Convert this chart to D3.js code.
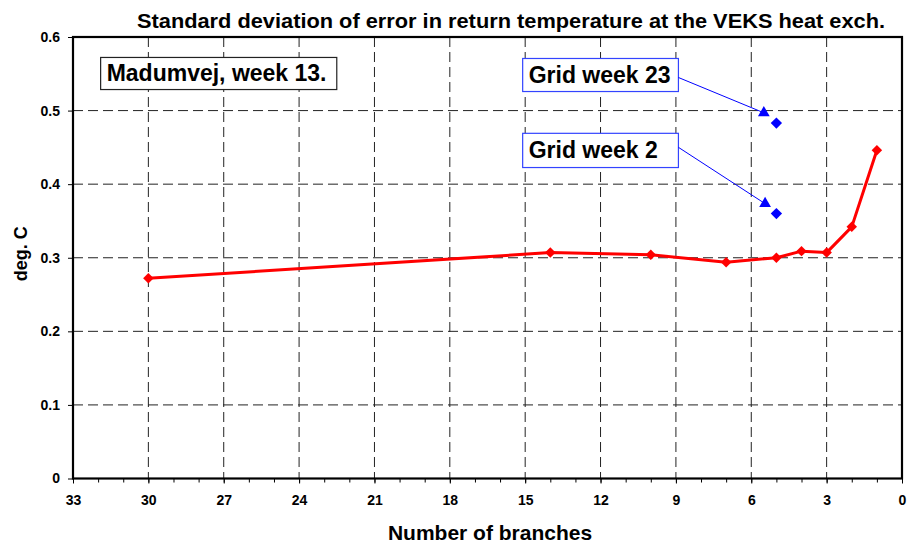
<!DOCTYPE html>
<html>
<head>
<meta charset="utf-8">
<script src="https://cdn.jsdelivr.net/npm/d3@7"></script>
<style>
  body { margin: 0; background: #fff; }
  svg { display: block; font-family: 'Liberation Sans', Arial, sans-serif; font-weight: bold; }
</style>
</head>
<body>
<svg id="chart"></svg>
<script>
// Madumvej, week 13 - std. deviation vs. number of branches
const branches = [30, 14, 10, 7, 5, 4, 3, 2, 1];
const stdDev = [0.272, 0.307, 0.304, 0.294, 0.300, 0.309, 0.307, 0.342, 0.446];

const gridPoints = [
  { label: 'Grid week 23', x: 5, y: 0.483 },
  { label: 'Grid week 2', x: 5, y: 0.360 },
];
// arrowhead tips of the two callouts
const arrowTips = [
  { x: 5.5, y: 0.497 },
  { x: 5.45, y: 0.3735 },
];
// callout boxes in data units: [x0, x1, yTop, yBottom]
const calloutBoxes = [
  [15.1, 8.9, 0.5708, 0.5259],
  [15.1, 8.9, 0.4691, 0.4226],
];
const titleBox = { label: 'Madumvej, week 13.', box: [31.9, 22.5, 0.5722, 0.5286] };

const xTicks = [33, 30, 27, 24, 21, 18, 15, 12, 9, 6, 3, 0];
const yTicks = [0, 0.1, 0.2, 0.3, 0.4, 0.5, 0.6];

const width = 909;
const height = 548;
const margin = { top: 37, right: 7, bottom: 69.5, left: 73 };

const svg = d3.select('#chart').attr('width', width).attr('height', height);

const x = d3
  .scaleLinear()
  .domain([33, 0])
  .range([margin.left, width - margin.right]);
const y = d3
  .scaleLinear()
  .domain([0, 0.6])
  .range([height - margin.bottom, margin.top]);

// grid
svg
  .append('g')
  .selectAll('line')
  .data(yTicks.slice(1, -1))
  .enter()
  .append('line')
  .attr('x1', x(33))
  .attr('x2', x(0))
  .attr('y1', (d) => y(d))
  .attr('y2', (d) => y(d))
  .attr('stroke', '#222')
  .attr('stroke-dasharray', '10,5');

svg
  .append('g')
  .selectAll('line')
  .data(xTicks.slice(1, -1))
  .enter()
  .append('line')
  .attr('x1', (d) => x(d))
  .attr('x2', (d) => x(d))
  .attr('y1', y(0.6))
  .attr('y2', y(0))
  .attr('stroke', '#222')
  .attr('stroke-dasharray', '10,5');

// axes
const xMinor = svg
  .append('g')
  .attr('transform', `translate(0,${y(0)})`)
  .call(d3.axisBottom(x).tickValues(d3.range(0, 34)).tickSize(4).tickFormat(''));
xMinor.select('.domain').remove();

const xAxis = svg
  .append('g')
  .attr('transform', `translate(0,${y(0)})`)
  .call(d3.axisBottom(x).tickValues(xTicks).tickSize(5).tickPadding(12).tickFormat(d3.format('d')));
xAxis.select('.domain').remove();
xAxis.selectAll('text').attr('font-size', 14).attr('font-weight', 'bold').attr('font-family', 'Liberation Sans, Arial, sans-serif');

const yAxis = svg
  .append('g')
  .attr('transform', `translate(${x(33)},0)`)
  .call(d3.axisLeft(y).tickValues(yTicks).tickSize(5).tickPadding(8).tickFormat((d) => (d === 0 ? '0' : d3.format('.1f')(d))));
yAxis.select('.domain').remove();
yAxis.selectAll('text').attr('font-size', 14).attr('font-weight', 'bold').attr('font-family', 'Liberation Sans, Arial, sans-serif');
svg.selectAll('.tick line').attr('stroke', '#000');

// frame
svg
  .append('rect')
  .attr('x', x(33))
  .attr('y', y(0.6))
  .attr('width', x(0) - x(33))
  .attr('height', y(0) - y(0.6))
  .attr('fill', 'none')
  .attr('stroke', '#000')
  .attr('stroke-width', 2.2);

// red series
const line = d3
  .line()
  .x((d, i) => x(branches[i]))
  .y((d) => y(d));

svg
  .append('path')
  .datum(stdDev)
  .attr('fill', 'none')
  .attr('stroke', '#ff0000')
  .attr('stroke-width', 3)
  .attr('stroke-linejoin', 'round')
  .attr('d', line);

const diamond = (size) => d3.symbol().type(d3.symbolSquare).size(size);

svg
  .append('g')
  .selectAll('path')
  .data(stdDev)
  .enter()
  .append('path')
  .attr('d', diamond(55)())
  .attr('transform', (d, i) => `translate(${x(branches[i])},${y(d)}) rotate(45)`)
  .attr('fill', '#ff0000');

// callout boxes and arrows
const boxLayer = svg.append('g');

function calloutBox(b, label, stroke) {
  boxLayer
    .append('rect')
    .attr('x', x(b[0]))
    .attr('y', y(b[2]))
    .attr('width', x(b[1]) - x(b[0]))
    .attr('height', y(b[3]) - y(b[2]))
    .attr('fill', '#fff')
    .attr('stroke', stroke)
    .attr('stroke-width', 1.2);
  boxLayer
    .append('text')
    .attr('x', x(b[0]) + 6)
    .attr('y', (y(b[2]) + y(b[3])) / 2 + 8)
    .attr('font-size', 23)
    .attr('fill', '#000')
    .text(label);
}

calloutBox(titleBox.box, titleBox.label, '#222');
gridPoints.forEach((p, i) => calloutBox(calloutBoxes[i], p.label, '#3344ff'));

gridPoints.forEach((p, i) => {
  const b = calloutBoxes[i];
  const tip = arrowTips[i];
  boxLayer
    .append('line')
    .attr('x1', x(b[1]))
    .attr('y1', y(b[2]) + (i === 0 ? 19 : 14))
    .attr('x2', x(tip.x))
    .attr('y2', y(tip.y))
    .attr('stroke', '#0000ff')
    .attr('stroke-width', 1);
  boxLayer
    .append('path')
    .attr('d', d3.symbol().type(d3.symbolTriangle).size(60)())
    .attr('transform', `translate(${x(tip.x)},${y(tip.y)})`)
    .attr('fill', '#0000ff');
});

svg
  .append('g')
  .selectAll('path')
  .data(gridPoints)
  .enter()
  .append('path')
  .attr('d', diamond(64)())
  .attr('transform', (d) => `translate(${x(d.x)},${y(d.y)}) rotate(45)`)
  .attr('fill', '#0000ff');

// titles
svg
  .append('text')
  .attr('x', 511)
  .attr('y', 28)
  .attr('text-anchor', 'middle')
  .attr('font-size', 20)
  .attr('textLength', 748)
  .attr('lengthAdjust', 'spacingAndGlyphs')
  .text('Standard deviation of error in return temperature at the VEKS heat exch.');

svg
  .append('text')
  .attr('x', 490)
  .attr('y', 540)
  .attr('text-anchor', 'middle')
  .attr('font-size', 21)
  .text('Number of branches');

svg
  .append('text')
  .attr('transform', `translate(27,${(y(0) + y(0.6)) / 2 - 4}) rotate(-90)`)
  .attr('text-anchor', 'middle')
  .attr('font-size', 18)
  .text('deg. C');
</script>
</body>
</html>
